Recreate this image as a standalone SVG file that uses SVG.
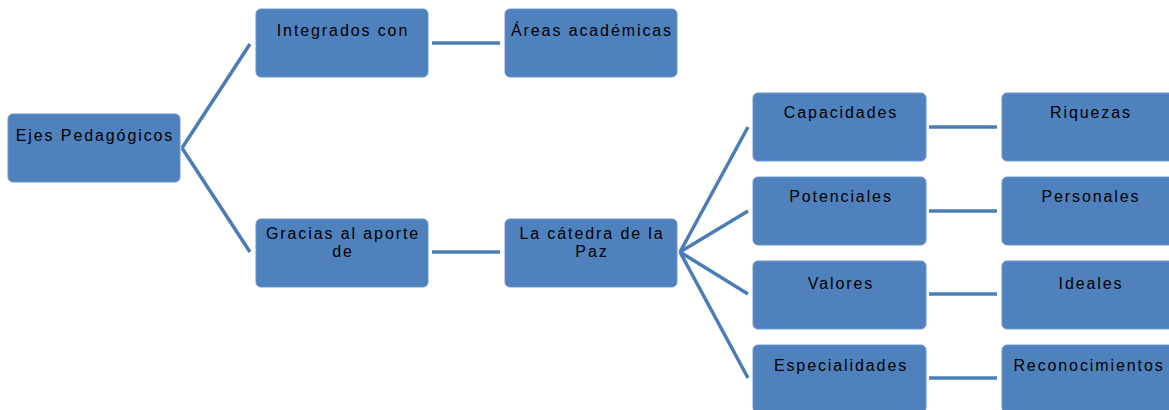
<svg xmlns="http://www.w3.org/2000/svg" width="1169" height="410" viewBox="0 0 1169 410">
<style>
.n rect{fill:#4F81BD;stroke:#6a95cb;stroke-width:1}
.n text{font-family:"Liberation Sans",Arial,sans-serif;font-size:16px;fill:#000;text-anchor:middle;letter-spacing:1.9px}
.c line{stroke:#4A7CB8;stroke-width:3.5;stroke-linecap:butt}
</style>
<rect width="1169" height="410" fill="#fff"/>
<g class="c" id="connectors">
<line x1="182" y1="148" x2="250" y2="44"/>
<line x1="182" y1="148" x2="250" y2="252"/>
<line x1="432" y1="43" x2="500" y2="43"/>
<line x1="432" y1="252" x2="500" y2="252"/>
<line x1="680" y1="252" x2="748" y2="127"/>
<line x1="680" y1="252" x2="748" y2="211"/>
<line x1="680" y1="252" x2="748" y2="294"/>
<line x1="680" y1="252" x2="748" y2="378"/>
<line x1="929" y1="127" x2="997" y2="127"/>
<line x1="929" y1="211" x2="997" y2="211"/>
<line x1="929" y1="294" x2="997" y2="294"/>
<line x1="929" y1="378" x2="997" y2="378"/>
</g>
<g class="n" id="ejes"><rect x="8" y="114" width="172" height="68" rx="5"/><text x="95" y="141">Ejes Pedagógicos</text></g>
<g class="n" id="integrados"><rect x="256" y="9" width="172" height="68" rx="5"/><text x="343" y="36">Integrados con</text></g>
<g class="n" id="areas"><rect x="505" y="9" width="172" height="68" rx="5"/><text x="592" y="36">Áreas académicas</text></g>
<g class="n" id="gracias"><rect x="256" y="219" width="172" height="68" rx="5"/><text x="343" y="239">Gracias al aporte</text><text x="343" y="257">de</text></g>
<g class="n" id="catedra"><rect x="505" y="219" width="172" height="68" rx="5"/><text x="592" y="239">La cátedra de la</text><text x="592" y="257">Paz</text></g>
<g class="n" id="capacidades"><rect x="753" y="93" width="173" height="68" rx="5"/><text x="841" y="118">Capacidades</text></g>
<g class="n" id="riquezas"><rect x="1002" y="93" width="175" height="68" rx="5"/><text x="1091" y="118">Riquezas</text></g>
<g class="n" id="potenciales"><rect x="753" y="177" width="173" height="68" rx="5"/><text x="841" y="202">Potenciales</text></g>
<g class="n" id="personales"><rect x="1002" y="177" width="175" height="68" rx="5"/><text x="1091" y="202">Personales</text></g>
<g class="n" id="valores"><rect x="753" y="261" width="173" height="68" rx="5"/><text x="841" y="289">Valores</text></g>
<g class="n" id="ideales"><rect x="1002" y="261" width="175" height="68" rx="5"/><text x="1091" y="289">Ideales</text></g>
<g class="n" id="especialidades"><rect x="753" y="345" width="173" height="68" rx="5"/><text x="841" y="371">Especialidades</text></g>
<g class="n" id="reconocimientos"><rect x="1002" y="345" width="175" height="68" rx="5"/><text x="1089" y="371">Reconocimientos</text></g>
</svg>
